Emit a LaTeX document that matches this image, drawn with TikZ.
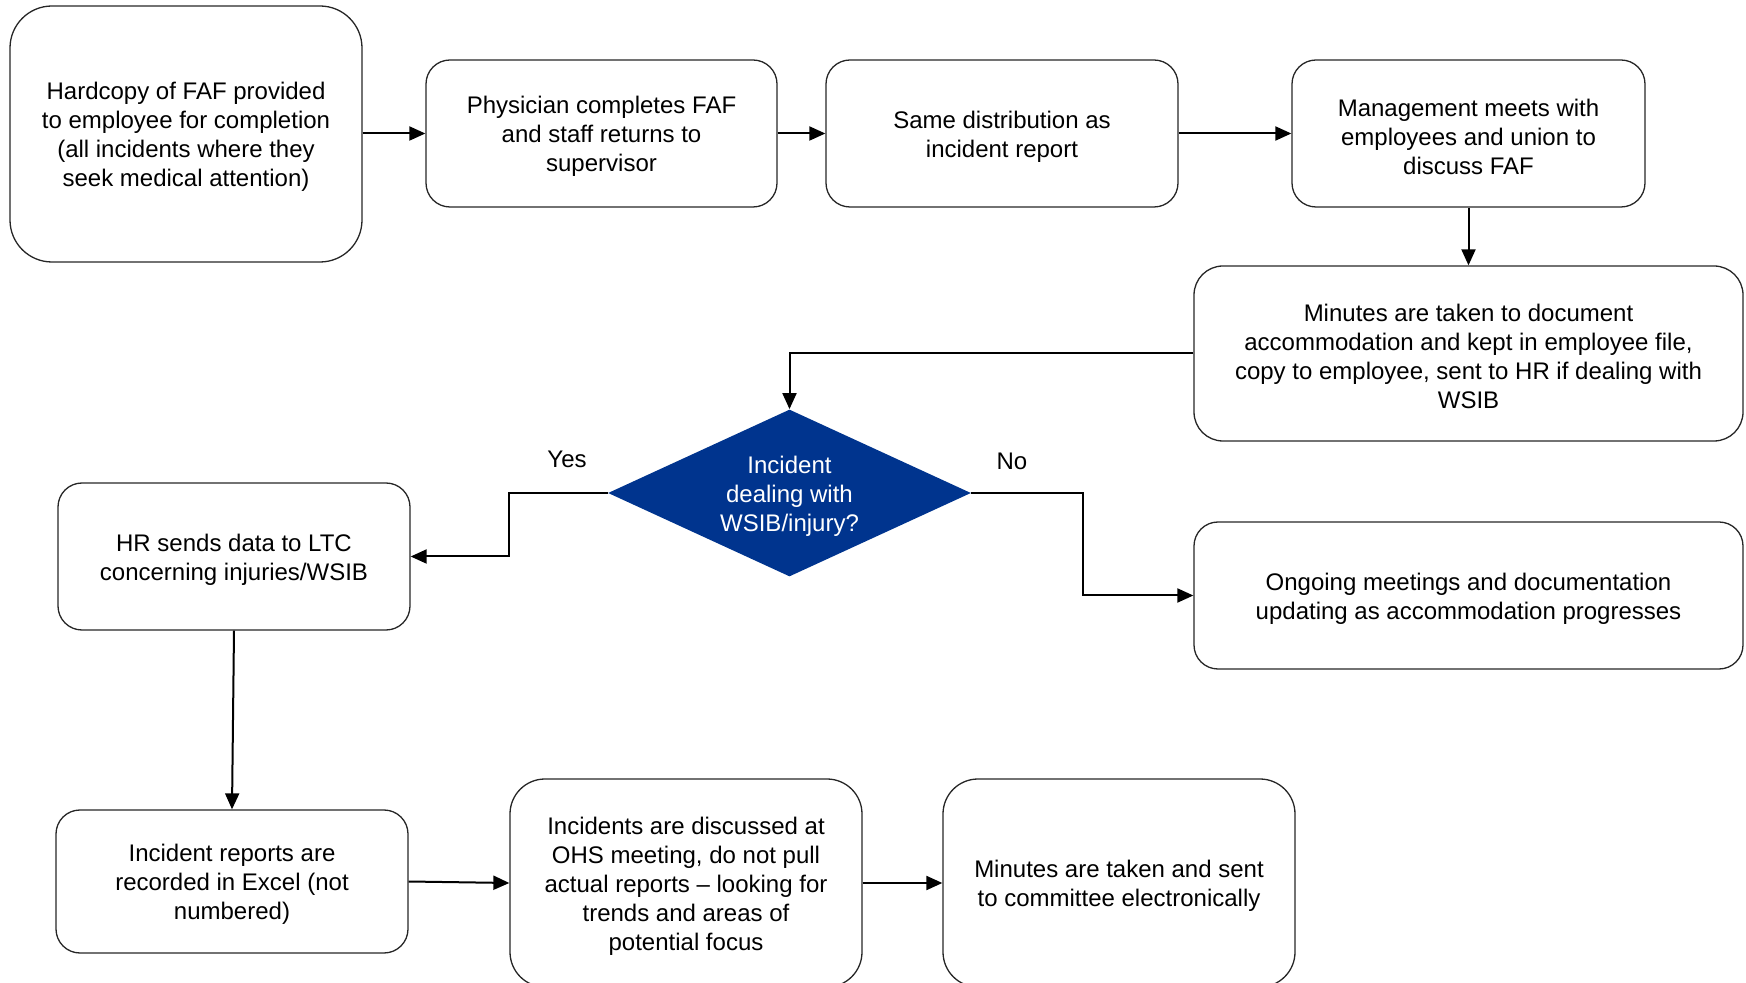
\documentclass[tikz,border=0pt]{standalone}
\usepackage{fontspec}
\setmainfont{Liberation Sans}
\usetikzlibrary{shapes.geometric,arrows.meta}
\definecolor{decblue}{RGB}{0,52,142}
% extra room above the first line, so each text block sits a little lower
\newcommand\padtop{\rule{0pt}{11.8pt}}
\begin{document}
\begin{tikzpicture}[x=0.5pt,y=-0.5pt,
  font=\fontsize{12pt}{14.5pt}\selectfont,
  box/.style={draw=black!85, line width=0.65pt, rounded corners=#1,
    align=center, inner sep=0pt},
  box/.default=12pt,
  sz/.style 2 args={minimum width=#1*0.5pt, minimum height=#2*0.5pt},
  decision/.style={diamond, fill=decblue, text=white, inner sep=0pt,
    aspect=2.17, minimum width=181.5pt, minimum height=83.5pt, align=center},
  arr/.style={-{Triangle[length=8pt,width=7pt]}, line width=1pt},
  lbl/.style={inner sep=0pt}]
\useasboundingbox (0,0) rectangle (1746,983);

% top row
\node[box=21pt, sz={352}{256}] (hard) at (186,134)
  {\padtop Hardcopy of FAF provided\\to employee for completion\\(all incidents where they\\seek medical attention)};
\node[box, sz={351}{147}] (phys) at (601.5,133.5)
  {\padtop Physician completes FAF\\and staff returns to\\supervisor};
\node[box, sz={352}{147}] (same) at (1002,133.5)
  {\padtop Same distribution as\\incident report};
\node[box, sz={353}{147}] (mgmt) at (1468.5,133.5)
  {\padtop Management meets with\\employees and union to\\discuss FAF};

% minutes and decision
\node[box=14.5pt, sz={549}{175}] (mins) at (1468.5,353.5)
  {\padtop Minutes are taken to document\\accommodation and kept in employee file,\\copy to employee, sent to HR if dealing with\\WSIB};
\node[decision] (dec) at (789.5,493) {\padtop Incident\\dealing with\\WSIB/injury?};

% outcomes
\node[box, sz={352}{147}] (hr) at (234,556.5)
  {\padtop HR sends data to LTC\\concerning injuries/WSIB};
\node[box, sz={549}{147}] (ongo) at (1468.5,595.5)
  {\padtop Ongoing meetings and documentation\\updating as accommodation progresses};

% bottom row
\node[box, sz={352}{143}] (excel) at (232,881.5)
  {\padtop Incident reports are\\recorded in Excel (not\\numbered)};
\node[box=17.5pt, sz={352}{208}] (ohs) at (686,883)
  {\padtop Incidents are discussed at\\OHS meeting, do not pull\\actual reports \textendash{} looking for\\trends and areas of\\potential focus};
\node[box=17.5pt, sz={352}{208}] (comm) at (1119,883)
  {\padtop Minutes are taken and sent\\to committee electronically};

% branch labels
\node[lbl] (yes) at (567,459) {Yes};
\node[lbl] (no) at (1012,461) {No};

% connectors
\draw[arr] (hard.east |- phys.west) -- (phys.west);
\draw[arr] (phys.east) -- (same.west);
\draw[arr] (same.east) -- (mgmt.west);
\draw[arr] (mgmt.south) -- (mins.north);
\draw[arr] (mins.west) -| (dec.north);
\draw[arr] (dec.west) -- ++(-99,0) |- (hr.east);
\draw[arr] (dec.east) -- ++(112,0) |- (ongo.west);
\draw[arr] (hr.south) -- (excel.north);
\draw[arr] (excel.east) -- (ohs.west);
\draw[arr] (ohs.east) -- (comm.west);
\end{tikzpicture}
\end{document}
